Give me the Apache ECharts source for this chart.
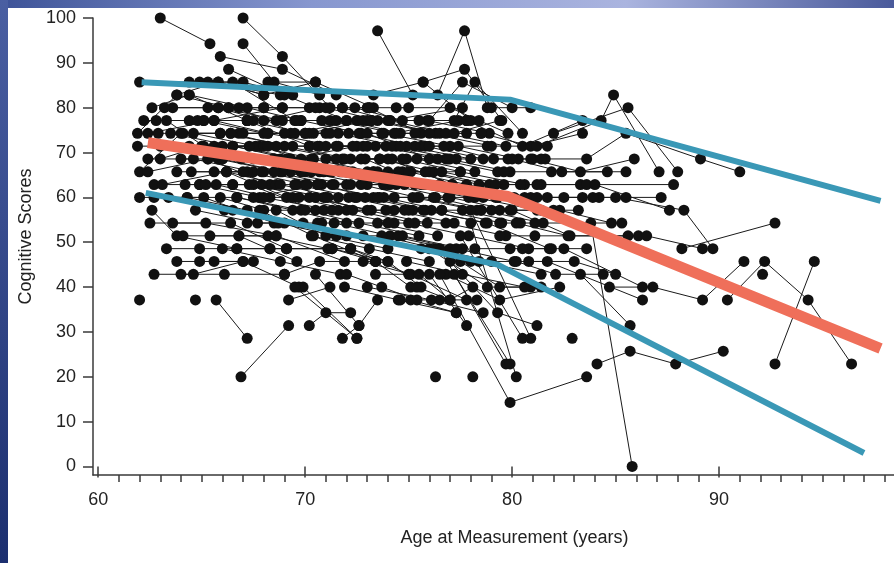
<!DOCTYPE html>
<html>
<head>
<meta charset="utf-8">
<title>Cognitive scores by age at measurement</title>
<script src="https://cdn.jsdelivr.net/npm/echarts@6/dist/echarts.min.js"></script>
<style>
html, body { margin: 0; padding: 0; background: #fff; }
#chart { width: 894px; height: 563px; }
</style>
</head>
<body>
<div id="chart"></div>
<script>
var chart = echarts.init(document.getElementById('chart'));

// raw test scores are items correct out of 35, plotted as percent
var MAX_ITEMS = 35;

// one row per participant: age, raw score, age, raw score, ...
var earlySixties = [
    [63.0, 35, 65.4, 33],
    [62.0, 30, 65.3, 30, 68.8, 29],
    [62.6, 28, 64.4, 29, 67.2, 27],
    [62.8, 27, 65.1, 27, 68.0, 26],
    [61.9, 26, 63.8, 29, 66.3, 28],
    [62.4, 26, 65.6, 27, 68.9, 28],
    [62.9, 26, 65.9, 26, 69.4, 25],
    [63.5, 26, 66.5, 25, 69.8, 24],
    [62.4, 24, 64.6, 24, 67.5, 23],
    [62.0, 23, 64.0, 26, 66.8, 26],
    [62.4, 23, 65.3, 24, 68.3, 22],
    [62.7, 22, 64.9, 22, 67.8, 21],
    [63.1, 22, 66.2, 23, 69.1, 21],
    [62.0, 21, 64.3, 21, 67.2, 20],
    [62.7, 21, 65.1, 21, 68.5, 19],
    [62.5, 19, 65.2, 19, 68.6, 18],
    [62.7, 15, 64.6, 15, 67.0, 16],
    [62.0, 13],
    [62.6, 20, 63.8, 18, 66.7, 17],
    [63.3, 27, 66.0, 24, 68.5, 24],
    [63.6, 28, 65.8, 28, 68.9, 27],
    [64.1, 26, 66.4, 26, 69.3, 26],
    [64.4, 27, 67.2, 27, 70.2, 25],
    [63.8, 29, 65.8, 30, 68.0, 29],
    [64.0, 24, 66.0, 24, 69.1, 24],
    [63.8, 23, 66.2, 23, 69.3, 23],
    [64.2, 22, 66.5, 22, 68.6, 22],
    [64.5, 23, 67.2, 23, 70.0, 22],
    [64.9, 22, 67.3, 22, 70.5, 20],
    [64.3, 21, 66.7, 21, 69.8, 20],
    [63.3, 17, 64.9, 17, 68.3, 17],
    [63.8, 16, 65.6, 16, 67.5, 16],
    [63.6, 19, 66.4, 19, 69.1, 17],
    [64.0, 15, 66.1, 15, 69.0, 15],
    [64.1, 18, 66.8, 18, 69.6, 16],
    [64.9, 16, 67.0, 16, 69.7, 14],
    [64.7, 13],
    [65.7, 13, 67.2, 10],
    [64.4, 29, 67.2, 28, 69.8, 27],
    [64.9, 30, 67.0, 30, 69.4, 29],
    [63.2, 28, 65.3, 28, 68.0, 28],
    [62.2, 27, 64.8, 27, 67.5, 27],
    [63.0, 24, 65.0, 25, 67.8, 25],
    [61.9, 25, 64.4, 25, 66.9, 24],
    [64.4, 30, 66.5, 30, 69.5, 27],
    [65.8, 30, 68.0, 29, 70.5, 30],
    [63.0, 25, 65.8, 24, 68.8, 23],
    [64.6, 26, 67.6, 25, 70.4, 24],
    [65.2, 22, 67.9, 22, 70.9, 21],
    [63.4, 21, 66.1, 20, 69.0, 19],
    [64.7, 20, 67.7, 19, 70.6, 19],
    [65.4, 18, 68.2, 18, 71.1, 17],
    [66.0, 17, 68.8, 16, 71.7, 15]
];

var lateSixties = [
    [67.0, 35, 68.9, 32, 71.2, 28],
    [67.0, 33, 68.5, 30, 70.7, 29],
    [65.9, 32, 68.9, 31, 71.5, 29],
    [66.3, 31, 69.0, 29, 72.0, 27],
    [65.8, 28, 68.0, 27, 70.7, 28],
    [66.3, 28, 68.9, 28, 71.8, 28],
    [66.8, 28, 69.5, 26, 72.5, 27],
    [65.1, 27, 67.2, 27, 70.0, 26],
    [65.6, 27, 68.2, 26, 71.0, 26],
    [67.2, 27, 69.8, 27, 72.7, 26],
    [65.9, 26, 68.2, 26, 71.5, 25],
    [66.4, 26, 69.0, 25, 72.2, 24],
    [67.0, 26, 70.2, 26, 73.0, 27],
    [65.1, 25, 67.3, 25, 70.7, 25],
    [65.6, 25, 68.0, 25, 71.2, 23],
    [66.0, 25, 68.6, 25, 71.8, 24],
    [66.5, 25, 69.3, 24, 72.5, 25],
    [65.3, 24, 68.5, 24, 71.3, 23],
    [66.0, 24, 68.9, 23, 72.0, 22],
    [67.5, 24, 70.3, 24, 73.3, 23],
    [65.6, 23, 68.0, 23, 70.8, 22],
    [66.2, 23, 68.8, 22, 71.6, 21],
    [67.0, 23, 70.0, 23, 73.0, 22],
    [65.7, 22, 68.3, 21, 71.0, 21],
    [66.5, 22, 69.6, 22, 72.4, 21],
    [67.5, 22, 70.2, 21, 73.2, 20],
    [65.9, 21, 68.0, 20, 70.9, 20],
    [66.7, 21, 69.4, 20, 72.0, 19],
    [67.5, 21, 70.6, 22, 73.6, 21],
    [68.0, 21, 71.3, 20, 74.3, 19],
    [66.5, 20, 68.7, 19, 71.5, 18],
    [67.2, 19, 69.9, 19, 72.8, 18],
    [66.7, 17, 69.1, 17, 72.2, 17],
    [66.8, 18, 68.6, 18, 71.9, 16],
    [67.8, 20, 70.4, 18, 73.4, 16],
    [69.0, 15, 70.7, 16, 73.4, 16],
    [68.3, 17, 71.3, 17, 74.0, 16],
    [69.1, 17, 72.2, 17, 75.0, 15],
    [66.9, 7, 69.2, 11],
    [69.2, 13, 71.2, 14],
    [69.9, 14, 72.5, 10],
    [70.5, 15, 72.6, 11],
    [68.6, 20, 71.0, 18, 74.0, 17],
    [68.0, 28, 70.2, 28, 73.0, 28],
    [68.6, 27, 71.2, 27, 74.0, 27],
    [69.0, 26, 71.6, 26, 74.4, 25],
    [68.2, 25, 71.0, 25, 73.9, 25],
    [69.2, 24, 71.9, 24, 74.9, 24],
    [68.5, 23, 71.3, 22, 74.1, 22],
    [69.5, 22, 72.0, 20, 75.2, 20],
    [68.2, 30, 70.5, 30, 73.3, 28],
    [67.9, 23, 70.7, 23, 73.8, 22],
    [68.8, 24, 71.7, 23, 74.7, 23],
    [69.4, 21, 72.3, 20, 75.3, 19]
];

var earlySeventies = [
    [69.6, 27, 72.0, 27, 74.6, 26],
    [70.0, 26, 72.6, 26, 75.3, 25],
    [70.4, 26, 73.0, 26, 76.0, 24],
    [70.8, 27, 73.2, 27, 76.3, 26],
    [70.2, 25, 72.8, 25, 75.6, 25],
    [70.6, 25, 73.4, 25, 76.8, 24],
    [71.2, 26, 73.8, 26, 77.0, 25],
    [71.6, 25, 74.2, 25, 77.3, 24],
    [72.1, 26, 74.4, 26, 77.8, 26],
    [71.0, 24, 73.6, 24, 76.2, 23],
    [71.5, 24, 74.0, 24, 77.1, 22],
    [72.3, 25, 74.9, 25, 78.0, 24],
    [69.8, 23, 72.3, 23, 75.1, 23],
    [70.3, 23, 72.9, 24, 75.8, 22],
    [70.9, 23, 73.5, 23, 76.5, 22],
    [71.4, 22, 74.0, 22, 76.9, 21],
    [70.1, 22, 72.7, 22, 75.4, 21],
    [70.6, 22, 73.3, 21, 76.1, 20],
    [71.8, 23, 74.5, 23, 77.5, 23],
    [72.2, 22, 74.8, 22, 77.9, 21],
    [69.7, 21, 72.1, 21, 75.0, 20],
    [70.5, 21, 73.0, 20, 75.9, 19],
    [71.1, 21, 73.8, 21, 76.6, 20],
    [71.6, 20, 74.3, 20, 77.2, 19],
    [72.5, 21, 75.2, 21, 78.3, 20],
    [70.0, 20, 72.6, 19, 75.5, 18],
    [70.8, 19, 73.5, 19, 76.4, 18],
    [71.4, 19, 74.1, 18, 77.0, 17],
    [72.0, 18, 74.7, 18, 77.6, 17],
    [70.3, 18, 73.1, 17, 76.0, 16],
    [71.3, 17, 73.4, 16, 75.1, 14],
    [72.2, 17, 74.0, 16, 75.6, 14],
    [72.0, 15, 73.7, 14, 75.4, 13],
    [72.8, 16, 75.1, 15, 77.8, 13],
    [73.4, 15, 75.5, 15, 77.0, 13],
    [70.2, 11, 71.0, 12, 72.2, 12],
    [71.8, 10, 72.6, 11, 73.5, 13],
    [69.5, 14, 72.5, 10],
    [71.9, 14, 74.5, 13, 77.3, 12],
    [70.5, 28, 73.1, 28, 75.0, 28],
    [71.0, 28, 73.5, 27, 76.5, 26],
    [71.8, 28, 74.1, 27, 77.6, 28],
    [72.4, 28, 74.7, 27, 77.8, 27],
    [72.7, 24, 75.4, 24, 78.2, 23],
    [73.0, 23, 75.6, 22, 78.6, 21],
    [72.9, 21, 75.8, 20, 78.7, 19],
    [72.8, 27, 75.9, 27, 78.9, 26],
    [71.5, 27, 74.3, 26, 77.4, 27]
];

var lateSeventies = [
    [73.1, 28, 75.6, 26, 78.5, 26],
    [73.5, 34, 75.2, 29],
    [76.4, 29, 77.7, 34, 78.8, 28],
    [75.7, 30, 77.7, 31, 79.5, 27],
    [76.0, 27, 77.6, 30, 80.0, 28],
    [77.2, 27, 78.2, 30, 80.5, 26],
    [73.3, 29, 75.7, 30, 78.0, 27],
    [73.2, 27, 75.5, 27, 78.4, 27],
    [73.7, 26, 76.0, 26, 79.0, 25],
    [74.1, 27, 76.8, 26, 79.7, 25],
    [73.0, 25, 75.8, 25, 78.6, 24],
    [73.6, 24, 76.4, 24, 79.3, 23],
    [74.2, 24, 76.9, 24, 79.9, 23],
    [74.6, 25, 77.4, 25, 80.3, 24],
    [73.3, 23, 76.0, 23, 78.9, 22],
    [74.0, 23, 76.6, 23, 79.6, 22],
    [74.7, 24, 77.5, 23, 80.6, 22],
    [73.8, 22, 76.5, 22, 79.3, 21],
    [74.4, 22, 77.1, 22, 80.1, 21],
    [75.0, 23, 77.8, 22, 80.9, 21],
    [73.5, 21, 76.2, 21, 79.0, 20],
    [74.3, 21, 77.0, 21, 79.9, 20],
    [75.3, 22, 78.2, 21, 81.2, 20],
    [73.9, 20, 76.6, 20, 79.5, 19],
    [74.8, 20, 77.6, 20, 80.4, 19],
    [75.5, 21, 78.5, 20, 81.5, 19],
    [74.0, 19, 76.8, 19, 79.7, 18],
    [75.0, 19, 77.9, 18, 80.8, 17],
    [75.7, 20, 78.8, 19, 81.8, 17],
    [74.5, 18, 77.3, 17, 80.1, 16],
    [75.6, 17, 78.4, 16, 81.4, 15],
    [76.0, 25, 78.8, 25, 81.7, 25],
    [75.3, 26, 77.2, 26, 79.4, 27],
    [76.7, 25, 79.1, 24, 81.0, 24],
    [77.0, 24, 79.8, 24, 81.6, 24],
    [74.6, 13, 76.5, 13, 78.3, 13],
    [75.4, 14, 77.0, 13, 78.1, 14],
    [76.0, 17, 78.8, 14, 80.9, 14],
    [77.5, 16, 79.4, 14, 81.4, 14],
    [76.8, 15, 79.4, 13, 82.3, 14],
    [77.0, 16, 79.3, 12, 81.2, 11],
    [77.5, 18, 80.5, 10],
    [78.0, 20, 80.9, 10],
    [75.1, 13, 77.3, 12],
    [76.0, 15, 77.8, 11],
    [76.5, 15, 79.9, 5, 83.6, 7],
    [76.5, 17, 79.7, 8],
    [77.2, 15, 79.9, 8],
    [78.0, 19, 80.2, 7],
    [76.3, 7],
    [78.1, 7],
    [73.7, 18, 76.3, 17, 79.0, 16],
    [74.9, 16, 77.6, 15, 80.6, 14],
    [73.0, 14, 76.1, 13, 78.6, 12],
    [75.8, 23, 78.4, 22, 81.4, 22],
    [76.3, 21, 79.2, 21, 82.0, 20],
    [74.4, 28, 77.0, 28, 79.8, 26]
];

var eighties = [
    [77.8, 27, 80.5, 25, 83.4, 27],
    [78.5, 26, 80.9, 25, 83.4, 26],
    [81.2, 25, 84.3, 27, 84.9, 29, 87.1, 23],
    [82.0, 26, 85.6, 28, 88.0, 23],
    [79.6, 23, 81.9, 23, 84.6, 23],
    [80.0, 24, 82.4, 23, 85.5, 23],
    [80.9, 24, 83.3, 23, 85.9, 24],
    [81.4, 24, 83.6, 24, 85.5, 26, 89.1, 24, 91.0, 23],
    [79.2, 22, 81.2, 22, 83.3, 22],
    [80.4, 22, 83.6, 22, 87.8, 22],
    [80.6, 21, 82.5, 21, 84.2, 21],
    [81.2, 21, 83.4, 21, 85.5, 21],
    [81.7, 21, 83.9, 21, 87.2, 21],
    [78.5, 20, 81.4, 20, 83.2, 20],
    [79.4, 20, 82.3, 20, 84.8, 19],
    [80.0, 20, 82.8, 18, 85.6, 18],
    [79.4, 19, 81.1, 19, 85.3, 19],
    [80.2, 19, 82.7, 18],
    [79.4, 18, 81.1, 18, 86.1, 18],
    [78.2, 17, 79.9, 17, 81.9, 17],
    [80.5, 17, 83.6, 17],
    [80.2, 16, 82.1, 15, 84.4, 15],
    [80.8, 16, 83.0, 16, 85.0, 15],
    [78.0, 16, 81.7, 16, 86.3, 13],
    [79.0, 28, 80.9, 28],
    [83.8, 19, 85.8, 0],
    [84.1, 8, 85.7, 9, 87.9, 8, 90.2, 9],
    [84.7, 14, 86.8, 14, 89.2, 13, 91.2, 16],
    [82.5, 17, 86.3, 14],
    [83.3, 15, 85.7, 11],
    [82.9, 10],
    [84.0, 22, 87.6, 20],
    [85.0, 21, 88.3, 20, 89.7, 17],
    [88.2, 17, 92.7, 19],
    [86.5, 18, 89.2, 17],
    [90.4, 13, 92.2, 16, 94.3, 13, 96.4, 8],
    [92.7, 8, 94.6, 16],
    [92.1, 15]
];

// axis ticks
var majorAges = [60, 70, 80, 90];
var minorAges = [61, 62, 63, 64, 65, 66, 67, 68, 69, 71, 72, 73, 74, 75, 76, 77, 78, 79,
    81, 82, 83, 84, 85, 86, 87, 88, 89, 91, 92, 93, 94, 95, 96, 97, 98];
var scoreTicks = [0, 10, 20, 30, 40, 50, 60, 70, 80, 90, 100];

// fitted trajectories: upper band, mean, lower band (knot near 80)
var upperAges = [62.1, 79.9, 97.8];
var upperScores = [85.7, 81.8, 59.2];
var meanAges = [62.4, 79.8, 97.8];
var meanScores = [72.2, 60.2, 26.3];
var lowerAges = [62.3, 79.3, 97.0];
var lowerScores = [61.0, 45.0, 3.0];

var people = earlySixties.concat(lateSixties, earlySeventies, lateSeventies, eighties);
var dots = [];
var paths = [];
people.forEach(function (row) {
    var pts = [];
    for (var i = 0; i < row.length; i += 2) {
        pts.push([row[i], row[i + 1] / MAX_ITEMS * 100]);
    }
    dots = dots.concat(pts);
    if (pts.length > 1) {
        paths.push({ coords: pts });
    }
});

function zip(xs, ys) {
    return xs.map(function (x, i) { return [x, ys[i]]; });
}

var axisColor = '#3a3a3a';
var textColor = '#222';
var font = '"Liberation Sans", Arial, sans-serif';
var axisLine = { show: true, onZero: false, lineStyle: { color: axisColor, width: 1.5 } };

var option = {
    backgroundColor: '#fff',
    animation: false,
    grid: { left: 93, right: 0, top: 18, bottom: 88 },
    graphic: [
        {
            type: 'rect', left: 0, top: 0, z: 100,
            shape: { width: 894, height: 8 },
            style: {
                fill: new echarts.graphic.LinearGradient(0, 0, 1, 0, [
                    { offset: 0, color: '#3d5398' },
                    { offset: 0.35, color: '#8797cf' },
                    { offset: 0.7, color: '#aab4df' },
                    { offset: 1, color: '#4a5a9b' }
                ])
            }
        },
        {
            type: 'rect', left: 0, top: 0, z: 101,
            shape: { width: 8, height: 563 },
            style: {
                fill: new echarts.graphic.LinearGradient(0, 0, 0, 1, [
                    { offset: 0, color: '#4a5fa2' },
                    { offset: 1, color: '#1c2f6f' }
                ])
            }
        }
    ],
    xAxis: [
        {
            type: 'value', min: 59.75, max: 98.45, position: 'bottom',
            name: 'Age at Measurement (years)',
            nameLocation: 'middle',
            nameGap: 54,
            nameTextStyle: { fontSize: 18, color: textColor, fontFamily: font, padding: [0, 0, 0, 42] },
            axisLine: axisLine,
            axisTick: { show: true, customValues: minorAges, length: 7, lineStyle: { color: axisColor, width: 1.5 } },
            axisLabel: { customValues: majorAges, margin: 16, fontSize: 18, color: textColor, fontFamily: font },
            splitLine: { show: false }
        },
        {
            type: 'value', min: 59.75, max: 98.45, position: 'bottom',
            axisLine: { show: false },
            axisTick: { show: true, customValues: majorAges, length: 11, lineStyle: { color: axisColor, width: 1.5 } },
            axisLabel: { show: false },
            splitLine: { show: false }
        }
    ],
    yAxis: {
        type: 'value', min: -1.9, max: 100,
        name: 'Cognitive Scores',
        nameLocation: 'middle',
        nameGap: 58,
        nameRotate: 90,
        nameTextStyle: { fontSize: 18, color: textColor, fontFamily: font, padding: [0, 0, 0, 20] },
        axisLine: axisLine,
        axisTick: { show: true, customValues: scoreTicks, length: 10, lineStyle: { color: axisColor, width: 1.5 } },
        axisLabel: { customValues: scoreTicks, margin: 17, fontSize: 18, color: textColor, fontFamily: font },
        splitLine: { show: false }
    },
    series: [
        {
            type: 'lines',
            coordinateSystem: 'cartesian2d',
            polyline: true,
            silent: true,
            data: paths,
            lineStyle: { color: '#1a1a1a', width: 1, opacity: 1 },
            z: 2
        },
        {
            type: 'scatter',
            data: dots,
            symbolSize: 11,
            itemStyle: { color: '#111', opacity: 1 },
            z: 3
        },
        {
            type: 'line',
            data: zip(upperAges, upperScores),
            symbol: 'none',
            lineStyle: { color: '#3a98b6', width: 6 },
            z: 4
        },
        {
            type: 'line',
            data: zip(meanAges, meanScores),
            symbol: 'none',
            lineStyle: { color: '#ef6f5a', width: 11 },
            z: 5
        },
        {
            type: 'line',
            data: zip(lowerAges, lowerScores),
            symbol: 'none',
            lineStyle: { color: '#3a98b6', width: 6 },
            z: 4
        }
    ]
};

chart.setOption(option);
</script>
</body>
</html>
